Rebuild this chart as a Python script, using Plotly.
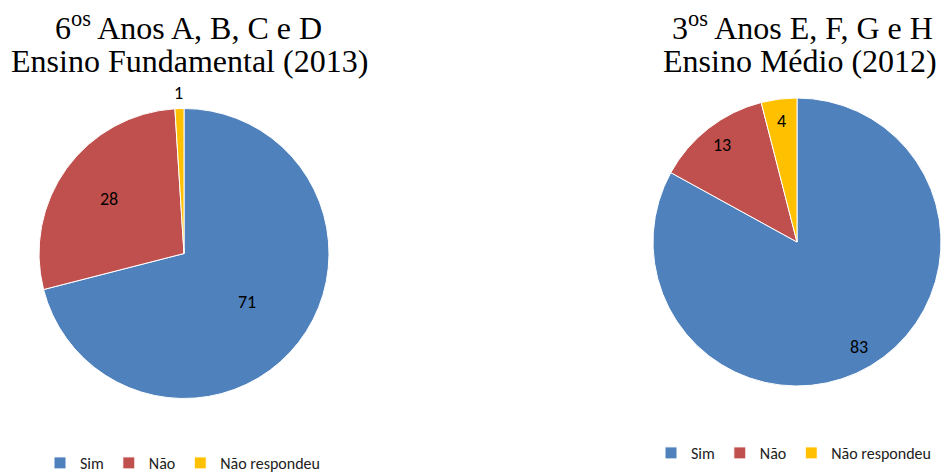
import math
import plotly.graph_objects as go

# Survey answers (counts) for each group of classes
labels = ["Sim", "Não", "Não respondeu"]
fund_2013 = [71, 28, 1]
medio_2012 = [83, 13, 4]
colors = ["#4F81BD", "#C0504D", "#FFC000"]

W, H = 941, 474
LABEL_FONT = "Carlito, Calibri, Lato, sans-serif"
TITLE_FONT = "Times New Roman, Liberation Serif, serif"

# pie geometry in px: centre x, centre y, radius, and radial position of each value label
pies = [
    dict(values=fund_2013, cx=184, cy=253.5, r=145, label_r=[0.55, 0.64, 1.11],
         legend="legend", group="fund"),
    dict(values=medio_2012, cx=797, cy=242, r=144, label_r=[0.85, 0.85, 0.85],
         legend="legend2", group="medio"),
]


def pie_domain(cx, cy, r):
    """Square domain (paper units) for a pie centred at (cx, cy) px with radius r px."""
    return dict(x=[(cx - r) / W, min(1, (cx + r) / W)],
                y=[1 - (cy + r) / H, 1 - (cy - r) / H])


fig = go.Figure()

for p in pies:
    vals = p["values"]
    fig.add_trace(go.Pie(
        labels=labels, values=vals, sort=False,
        direction="clockwise", rotation=0,
        marker=dict(colors=colors, line=dict(color="white", width=1)),
        textinfo="none",
        domain=pie_domain(p["cx"], p["cy"], p["r"]),
        legend=p["legend"], legendgroup=p["group"],
    ))
    # value labels placed on each slice's bisector (clockwise from 12 o'clock)
    total = sum(vals)
    cum = 0
    for v, f in zip(vals, p["label_r"]):
        theta = math.radians(360 * (cum + v / 2) / total)
        cum += v
        x = p["cx"] + f * p["r"] * math.sin(theta)
        y = p["cy"] - f * p["r"] * math.cos(theta)
        fig.add_annotation(
            x=x / W, y=1 - y / H, xref="paper", yref="paper",
            xanchor="center", yanchor="middle", showarrow=False,
            text=str(v), font=dict(family=LABEL_FONT, size=18, color="black"),
        )

titles = [
    (188, 26, "6<sup>os</sup> Anos A, B, C e D"),
    (189, 61, "Ensino Fundamental (2013)"),
    (802, 26, "3<sup>os</sup> Anos E, F, G e H"),
    (800, 61, "Ensino Médio (2012)"),
]
for x, y, t in titles:
    fig.add_annotation(
        x=x / W, y=1 - y / H, xref="paper", yref="paper",
        xanchor="center", yanchor="middle", showarrow=False,
        text=t, font=dict(family=TITLE_FONT, size=32, color="black"),
    )

legend_style = dict(
    orientation="h", xanchor="left", yanchor="middle",
    traceorder="normal",
    font=dict(family=LABEL_FONT, size=16, color="#222222"),
    bgcolor="rgba(0,0,0,0)", itemclick=False, itemdoubleclick=False,
)
fig.update_layout(
    width=W, height=H,
    margin=dict(l=0, r=0, t=0, b=0, autoexpand=False),
    paper_bgcolor="white", plot_bgcolor="white",
    showlegend=True,
    legend=dict(x=40 / W, y=1 - 463 / H, **legend_style),
    legend2=dict(x=651 / W, y=1 - 453 / H, **legend_style),
)

fig.write_html("out.html")
